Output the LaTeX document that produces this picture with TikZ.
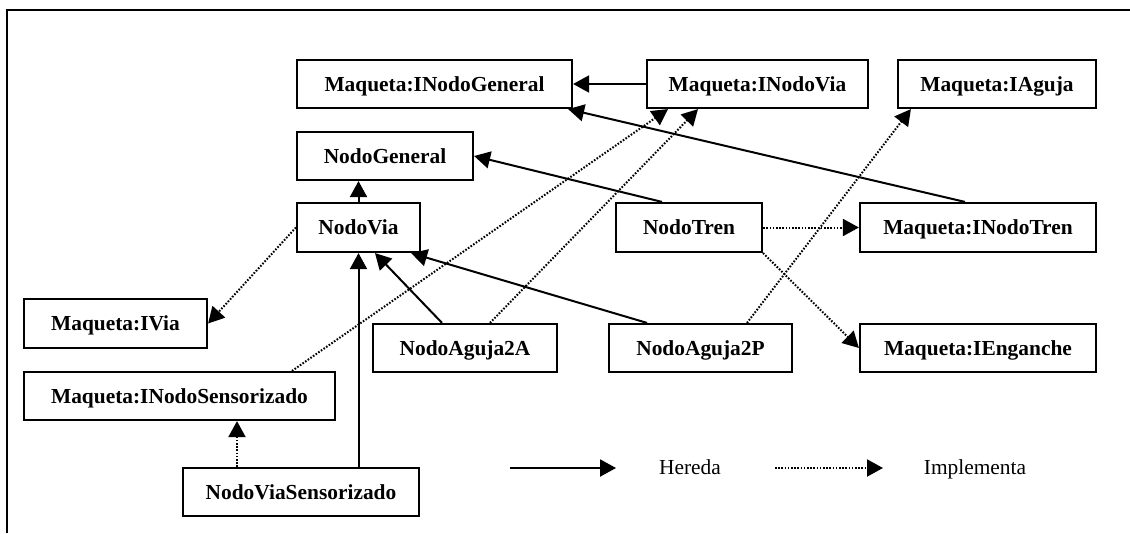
\documentclass[tikz,border=0pt]{standalone}
\usepackage{fontspec}
\setmainfont{Liberation Serif}
\usetikzlibrary{arrows.meta}
\tikzset{
  cls/.style={draw, line width=2.2pt, rectangle, inner sep=0pt, text height=15pt, text depth=1pt,
    font=\fontsize{21.4}{25}\selectfont\bfseries},
  inh/.style={line width=2pt, -{Triangle[length=16pt,width=17pt]}},
  impl/.style={line width=2pt, dash pattern=on 1.6pt off 1.6pt, -{Triangle[length=16pt,width=17pt]}},
  legend/.style={inner sep=0pt, text height=15pt, text depth=3pt, font=\fontsize{21.4}{25}\selectfont},
}
\begin{document}
\begin{tikzpicture}[x=1pt,y=-1pt]
\useasboundingbox (0,0) rectangle (1130,533);
% open frame: top and left edges
\draw[line width=2.5pt] (7,533) -- (7,10) -- (1130,10);

% classes and interfaces
\node[cls, minimum width=275pt, minimum height=48pt] (ing) at (434.5,84) {Maqueta:INodoGeneral};
\node[cls, minimum width=221pt, minimum height=48pt] (inv) at (757.5,84) {Maqueta:INodoVia};
\node[cls, minimum width=198pt, minimum height=48pt] (ia) at (997,84) {Maqueta:IAguja};
\node[cls, minimum width=176pt, minimum height=48pt] (ng) at (385,156) {NodoGeneral};
\node[cls, minimum width=123pt, minimum height=49pt] (nv) at (358.5,227.5) {NodoVia};
\node[cls, minimum width=146pt, minimum height=49pt] (nt) at (689,227.5) {NodoTren};
\node[cls, minimum width=236pt, minimum height=49pt] (int) at (978,227.5) {Maqueta:INodoTren};
\node[cls, minimum width=183pt, minimum height=49pt] (iv) at (115.5,323.5) {Maqueta:IVia};
\node[cls, minimum width=184pt, minimum height=48pt] (na) at (465,348) {NodoAguja2A};
\node[cls, minimum width=183pt, minimum height=48pt] (np) at (700.5,348) {NodoAguja2P};
\node[cls, minimum width=236pt, minimum height=48pt] (ie) at (978,348) {Maqueta:IEnganche};
\node[cls, minimum width=311pt, minimum height=48pt] (ins) at (179.5,396) {Maqueta:INodoSensorizado};
\node[cls, minimum width=236pt, minimum height=48pt] (nvs) at (301,492) {NodoViaSensorizado};

% inheritance
\draw[inh] (inv.west) -- (ing.east);
\draw[inh] ([xshift=-13pt]int.north) -- ([xshift=-5pt]ing.south east);
\draw[inh] ([xshift=-27pt]nt.north) -- (ng.east);
\draw[inh] (nv.north) -- (nv.north |- ng.south);
\draw[inh] (nvs.north -| nv.south) -- (nv.south);
\draw[inh] ([xshift=-23pt]na.north) -- ([xshift=16.5pt]nv.south);
\draw[inh] ([xshift=-53.5pt]np.north) -- ([xshift=-10pt]nv.south east);

% implementation
\draw[impl] (nv.west) -- (iv.east);
\draw[impl] ([xshift=112.5pt]ins.north) -- ([xshift=-89.5pt]inv.south);
\draw[impl] ([xshift=25pt]na.north) -- ([xshift=-59.5pt]inv.south);
\draw[impl] ([xshift=46.5pt]np.north) -- ([xshift=14pt]ia.south west);
\draw[impl] (nt.east) -- (int.west);
\draw[impl] (nt.south east) -- (ie.west);
\draw[impl] ([xshift=-64pt]nvs.north) -- ([xshift=-64pt]nvs.north |- ins.south);

% legend
\coordinate (la) at (510,468);
\coordinate (lb) at (616,468);
\coordinate (lc) at (775,468);
\coordinate (ld) at (883,468);
\draw[inh] (la) -- (lb);
\node[legend] (lh) at (690,468) {Hereda};
\draw[impl] (lc) -- (ld);
\node[legend] (li) at (975,468) {Implementa};
\end{tikzpicture}
\end{document}
